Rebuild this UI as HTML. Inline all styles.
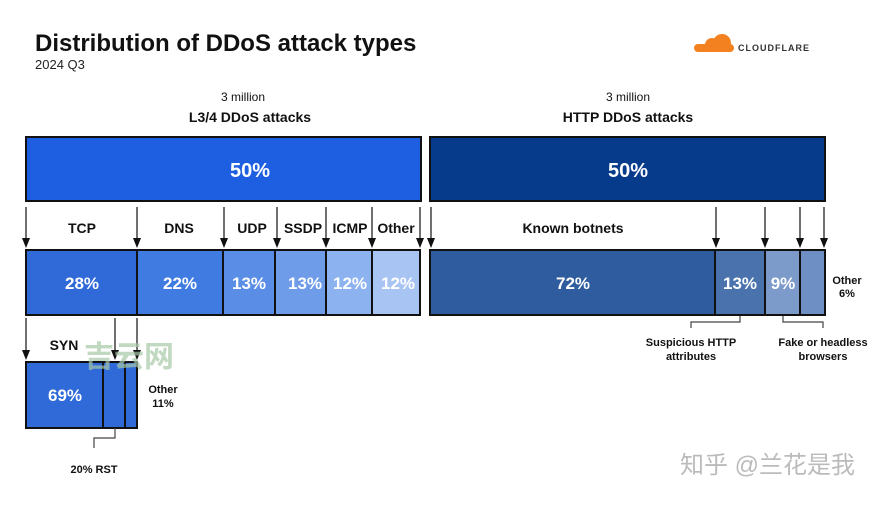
<!DOCTYPE html>
<html><head><meta charset="utf-8"><style>
body{margin:0;background:#fff;width:896px;height:500px;overflow:hidden;font-family:"Liberation Sans",sans-serif;}
</style></head><body>
<svg width="896" height="500" xmlns="http://www.w3.org/2000/svg" font-family="Liberation Sans, sans-serif">
<text x="35" y="51" font-size="24" font-weight="bold" fill="#111">Distribution of DDoS attack types</text>
<text x="35" y="69" font-size="13" fill="#222">2024 Q3</text>
<g fill="#f48120"><circle cx="712" cy="45" r="7"/><circle cx="722" cy="43" r="9"/><rect x="694" y="44" width="40" height="8" rx="4"/></g>
<text x="738" y="51" font-size="9" font-weight="bold" fill="#333" letter-spacing="1">CLOUDFLARE</text>
<g text-anchor="middle" fill="#111">
<text x="243" y="101" font-size="12">3 million</text>
<text x="250" y="122" font-size="14" font-weight="bold">L3/4 DDoS attacks</text>
<text x="628" y="101" font-size="12">3 million</text>
<text x="628" y="122" font-size="14" font-weight="bold">HTTP DDoS attacks</text>
</g>
<g stroke="#111" stroke-width="2">
<rect x="26" y="137" width="395" height="64" fill="#1d5fe0"/>
<rect x="430" y="137" width="395" height="64" fill="#063a8a"/>
<rect x="26" y="250" width="111" height="65" fill="#2f6ad8"/>
<rect x="137" y="250" width="86" height="65" fill="#3f7be0"/>
<rect x="223" y="250" width="52" height="65" fill="#5a8ee6"/>
<rect x="275" y="250" width="51" height="65" fill="#6e9ce9"/>
<rect x="326" y="250" width="46" height="65" fill="#8cb2ef"/>
<rect x="372" y="250" width="48" height="65" fill="#a7c4f3"/>
<rect x="430" y="250" width="285" height="65" fill="#2f5c9e"/>
<rect x="715" y="250" width="50" height="65" fill="#4a72ad"/>
<rect x="765" y="250" width="35" height="65" fill="#7c9bca"/>
<rect x="800" y="250" width="25" height="65" fill="#6d8fc4"/>
<rect x="26" y="362" width="77" height="66" fill="#2f6ad8"/>
<rect x="103" y="362" width="22" height="66" fill="#2f6ad8"/>
<rect x="125" y="362" width="12" height="66" fill="#2f6ad8"/>
</g>
<g stroke="#111" stroke-width="1.2">
<line x1="26" y1="207" x2="26" y2="244"/><line x1="137" y1="207" x2="137" y2="244"/>
<line x1="224" y1="207" x2="224" y2="244"/><line x1="277" y1="207" x2="277" y2="244"/>
<line x1="326" y1="207" x2="326" y2="244"/><line x1="372" y1="207" x2="372" y2="244"/>
<line x1="420" y1="207" x2="420" y2="244"/><line x1="431" y1="207" x2="431" y2="244"/>
<line x1="716" y1="207" x2="716" y2="244"/><line x1="765" y1="207" x2="765" y2="244"/>
<line x1="800" y1="207" x2="800" y2="244"/><line x1="824" y1="207" x2="824" y2="244"/>
<line x1="26" y1="318" x2="26" y2="356"/><line x1="115" y1="318" x2="115" y2="356"/><line x1="137" y1="318" x2="137" y2="356"/>
</g>
<g fill="#111">
<path d="M22,238 L30,238 L26,248z"/><path d="M133,238 L141,238 L137,248z"/>
<path d="M220,238 L228,238 L224,248z"/><path d="M273,238 L281,238 L277,248z"/>
<path d="M322,238 L330,238 L326,248z"/><path d="M368,238 L376,238 L372,248z"/>
<path d="M416,238 L424,238 L420,248z"/><path d="M427,238 L435,238 L431,248z"/>
<path d="M712,238 L720,238 L716,248z"/><path d="M761,238 L769,238 L765,248z"/>
<path d="M796,238 L804,238 L800,248z"/><path d="M820,238 L828,238 L824,248z"/>
<path d="M22,350 L30,350 L26,360z"/><path d="M111,350 L119,350 L115,360z"/><path d="M133,350 L141,350 L137,360z"/>
</g>
<g fill="none" stroke="#444" stroke-width="1.2">
<path d="M94,448 V438 H115 V428"/>
<path d="M691,328 V322 H740 V316"/>
<path d="M783,316 V322 H823 V328"/>
</g>
<g text-anchor="middle" font-size="14" font-weight="bold" fill="#111">
<text x="82" y="233">TCP</text><text x="179" y="233">DNS</text><text x="252" y="233">UDP</text>
<text x="303" y="233">SSDP</text><text x="350" y="233">ICMP</text><text x="396" y="233">Other</text>
<text x="573" y="233">Known botnets</text><text x="64" y="350">SYN</text>
</g>
<g text-anchor="middle" font-size="20" font-weight="bold" fill="#fff">
<text x="250" y="177">50%</text><text x="628" y="177">50%</text>
<text x="82" y="289" font-size="17">28%</text><text x="180" y="289" font-size="17">22%</text>
<text x="249" y="289" font-size="17">13%</text><text x="305" y="289" font-size="17">13%</text>
<text x="350" y="289" font-size="17">12%</text><text x="398" y="289" font-size="17">12%</text>
<text x="573" y="289" font-size="17">72%</text><text x="740" y="289" font-size="17">13%</text>
<text x="783" y="289" font-size="17">9%</text><text x="65" y="401" font-size="17">69%</text>
</g>
<g text-anchor="middle" font-size="11" font-weight="bold" fill="#111">
<text x="163" y="393">Other</text><text x="163" y="407">11%</text>
<text x="94" y="473">20% RST</text>
<text x="847" y="284">Other</text><text x="847" y="297">6%</text>
<text x="691" y="346">Suspicious HTTP</text><text x="691" y="360">attributes</text>
<text x="823" y="346">Fake or headless</text><text x="823" y="360">browsers</text>
</g>
<text x="84" y="367" font-size="30" font-weight="bold" fill="#a8c8a8" opacity="0.7" font-family="Liberation Sans, Noto Sans CJK SC, sans-serif">吉云网</text>
<text x="680" y="473" font-size="24" fill="#bbb" font-family="Liberation Sans, Noto Sans CJK SC, sans-serif">知乎 @兰花是我</text>
</svg>
</body></html>
